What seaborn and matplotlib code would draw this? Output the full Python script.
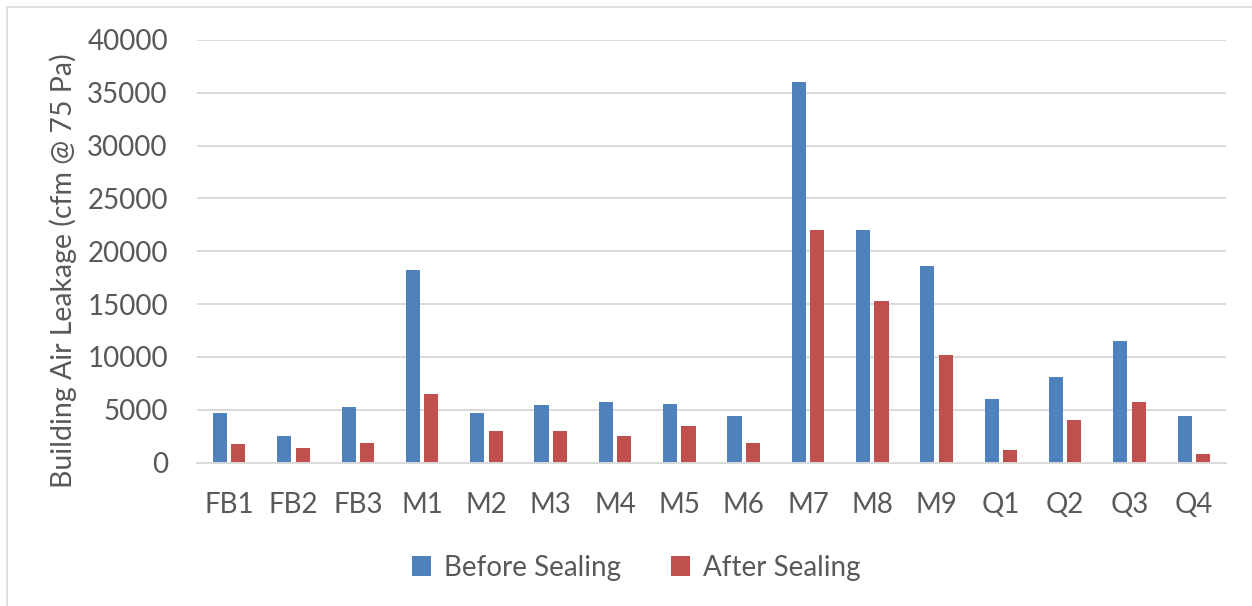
import matplotlib
matplotlib.use("Agg")
import matplotlib.pyplot as plt
from matplotlib.lines import Line2D
from matplotlib.patches import Patch
import seaborn as sns
import pandas as pd

buildings = ["FB1", "FB2", "FB3", "M1", "M2", "M3", "M4", "M5", "M6",
             "M7", "M8", "M9", "Q1", "Q2", "Q3", "Q4"]
before_sealing = [4700, 2550, 5300, 18200, 4650, 5450, 5750, 5500, 4400,
                  36000, 22050, 18600, 6050, 8050, 11550, 4400]
after_sealing = [1750, 1400, 1800, 6450, 2950, 3000, 2550, 3500, 1850,
                 22050, 15250, 10200, 1200, 4050, 5750, 850]
series_names = ["Before Sealing", "After Sealing"]
colors = ["#4F81BD", "#C0504D"]

df = pd.DataFrame({
    "Building": buildings * 2,
    "Leakage": before_sealing + after_sealing,
    "Series": [series_names[0]] * len(buildings) + [series_names[1]] * len(buildings),
})

sns.set_theme(style="white")
plt.rcParams["font.family"] = ["Lato", "DejaVu Sans"]
text_color = "#595959"
grid_color = "#D9D9D9"
fs = 20

fig = plt.figure(figsize=(12.52, 6.06), dpi=100)
ax = fig.add_axes([197 / 1252, 1 - 462.5 / 606, (1226 - 197) / 1252, (462.5 - 40) / 606])

sns.barplot(data=df, x="Building", y="Leakage", hue="Series",
            palette=colors, width=0.57, gap=0.23, ax=ax, legend=False,
            saturation=1, edgecolor="none", errorbar=None)

ax.set_ylim(0, 40000)
ax.set_yticks(range(0, 40001, 5000))
ax.set_xlim(-0.5, len(buildings) - 0.5)
ax.yaxis.grid(True, color=grid_color, linewidth=1.4)
ax.set_axisbelow(True)
for side in ["top", "right", "left"]:
    ax.spines[side].set_visible(False)
ax.spines["bottom"].set_color(grid_color)
ax.spines["bottom"].set_linewidth(1.4)

ax.tick_params(axis="both", length=0, labelsize=fs, labelcolor=text_color)
ax.tick_params(axis="y", pad=21)
ax.tick_params(axis="x", pad=21)
ax.set_xlabel("")
ax.set_ylabel("Building Air Leakage (cfm @ 75 Pa)", fontsize=fs + 0.5,
              color=text_color)
ax.yaxis.set_label_coords(-0.117, 0.453)

handles = [Patch(facecolor=c, edgecolor="none") for c in colors]
fig.legend(handles, series_names, loc="center", ncol=2,
           bbox_to_anchor=(0.508, 0.063), frameon=False, fontsize=fs,
           labelcolor=text_color, handlelength=0.7, handleheight=0.7,
           handletextpad=0.45, columnspacing=1.8)

# chart-area frame
fig.add_artist(Line2D([7 / 1252, 1.0], [1 - 6.5 / 606] * 2, color=grid_color,
                      linewidth=1.2, transform=fig.transFigure))
fig.add_artist(Line2D([7 / 1252] * 2, [0.0, 1 - 6.5 / 606], color=grid_color,
                      linewidth=1.2, transform=fig.transFigure))

fig.savefig("out.png", dpi=100, facecolor="white")
